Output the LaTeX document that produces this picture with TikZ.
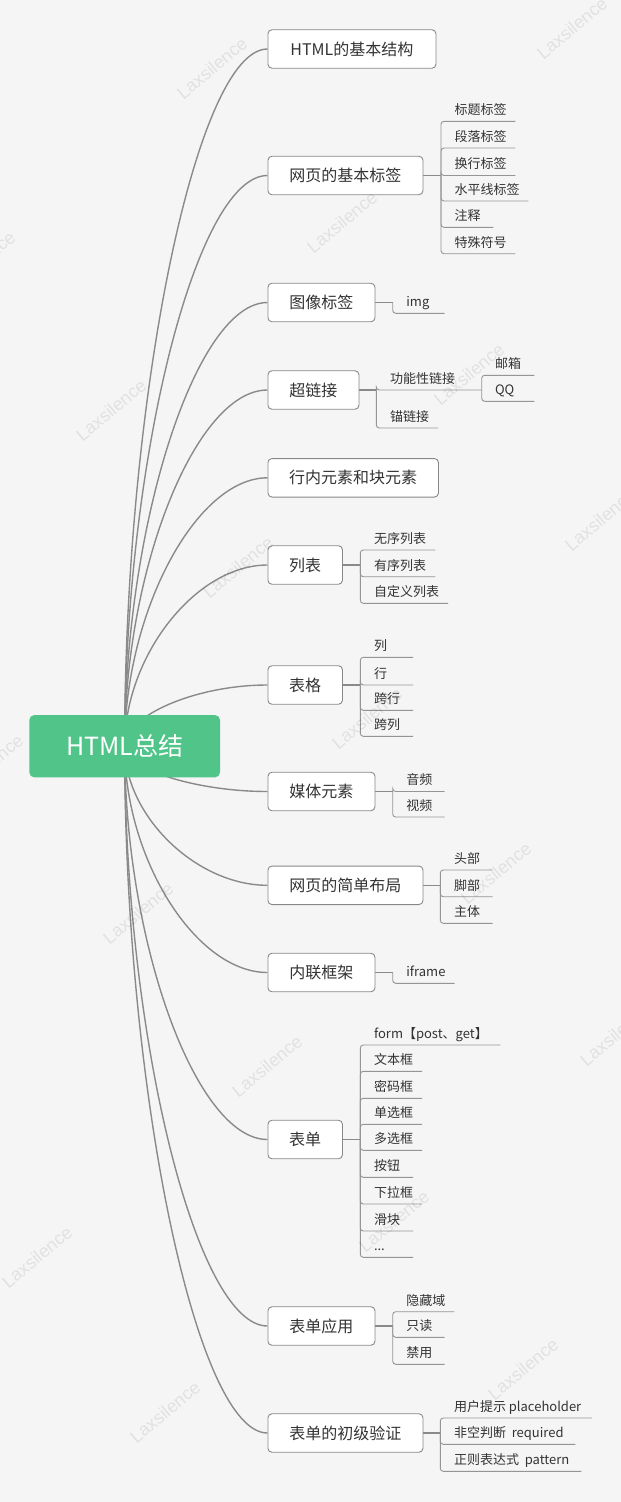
\documentclass[tikz,border=0pt]{standalone}
\usepackage{fontspec}
\setmainfont{Noto Sans CJK SC}
\newfontfamily\wmfont{Liberation Sans}
\usetikzlibrary{calc}
\definecolor{bgc}{HTML}{F5F5F5}
\definecolor{linec}{HTML}{8A8A8A}
\definecolor{subc}{HTML}{959595}
\definecolor{boxline}{HTML}{888888}
\definecolor{txt}{HTML}{333333}
\definecolor{rootc}{HTML}{51C48A}
\pgfdeclarelayer{bg}
\pgfdeclarelayer{edges}
\pgfsetlayers{bg,edges,main}
\newcommand\leafat[5]{\node[leaf] (#1) at (#2,#3) {\makebox[\dimexpr#4pt-#2pt\relax][l]{\hspace*{13.5pt}#5}};}
\newcommand\branchto[1]{\draw[branch] let \p1=(root.center), \p2=(#1.west), \p3=($(\p1)!0.5!(\p2)$) in (\p1) .. controls (\x1,\y3) and (\x3,\y2) .. (\p2);}
\begin{document}
\begin{tikzpicture}[x=1pt,y=-1pt,
  rootbox/.style={fill=rootc, rounded corners=5pt, inner sep=0pt, minimum width=190.7pt, minimum height=62.3pt, text=white, font=\fontsize{25}{28}\selectfont},
  topic/.style={draw=boxline, fill=white, rounded corners=4pt, line width=0.9pt, anchor=west, inner sep=0pt, minimum height=38.5pt, minimum width=#1, text=txt, font=\fontsize{16}{19}\selectfont},
  leaf/.style={anchor=south west, inner sep=0pt, text height=10pt, text depth=6.5pt, text=txt, font=\fontsize{13}{15}\selectfont},
  branch/.style={draw=linec, line width=1.4pt},
  stem/.style={draw=linec, line width=1.6pt},
  sub/.style={draw=subc, line width=0.9pt, rounded corners=3pt},
  wm/.style={text=black, text opacity=0.08, rotate=40, font=\wmfont\fontsize{18}{18}\selectfont}]
\useasboundingbox (0,0) rectangle (621,1502);
\begin{pgfonlayer}{bg}
\fill[bgc] (0,0) rectangle (621,1502);
\end{pgfonlayer}

\node[rootbox] (root) at (124.65,746.2) {HTML总结};

\node[topic=168pt] (t1) at (267.5,49) {HTML的基本结构};
\node[topic=155pt] (t2) at (267.5,175.5) {网页的基本标签};
\node[topic=107pt] (t3) at (267.5,302.5) {图像标签};
\node[topic=91pt] (t4) at (267.5,390) {超链接};
\node[topic=170.5pt] (t5) at (267.5,477.8) {行内元素和块元素};
\node[topic=74.5pt] (t6) at (267.5,565) {列表};
\node[topic=74.5pt] (t7) at (267.5,685) {表格};
\node[topic=107pt] (t8) at (267.5,791.5) {媒体元素};
\node[topic=155pt] (t9) at (267.5,885.3) {网页的简单布局};
\node[topic=107pt] (t10) at (267.5,972.5) {内联框架};
\node[topic=74.5pt] (t11) at (267.5,1139.5) {表单};
\node[topic=107pt] (t12) at (267.5,1326) {表单应用};
\node[topic=155pt] (t13) at (267.5,1433) {表单的初级验证};

\begin{pgfonlayer}{edges}
\foreach \t in {t1,t2,t3,t4,t5,t6,t7,t8,t9,t10,t11,t12,t13} {\branchto{\t}}
\end{pgfonlayer}

% junctions
\coordinate (j2) at (441,175.5);
\coordinate (j3) at (392.7,302.5);
\coordinate (j4) at (376.3,390);
\coordinate (j6) at (360.3,565);
\coordinate (j7) at (360.3,685);
\coordinate (j8) at (392.7,791.5);
\coordinate (j9) at (440.3,885.3);
\coordinate (j10) at (392.7,972.5);
\coordinate (j11) at (360.3,1139.5);
\coordinate (j12) at (392.7,1326);
\coordinate (j13) at (440.3,1433);

% leaves
\leafat{c2a}{441}{121.3}{515}{标题标签}
\leafat{c2b}{441}{148}{515}{段落标签}
\leafat{c2c}{441}{175.5}{515}{换行标签}
\leafat{c2d}{441}{201}{528}{水平线标签}
\leafat{c2e}{441}{227.3}{493}{注释}
\leafat{c2f}{441}{253.7}{515}{特殊符号}

\leafat{c3a}{392.7}{313.3}{444.3}{img}

\leafat{c4a}{376.3}{390}{481.3}{功能性链接}
\leafat{c4b}{376.3}{428}{437.7}{锚链接}
\leafat{c4c}{481.3}{375.3}{534}{邮箱}
\leafat{c4d}{481.3}{401.3}{534}{QQ}

\leafat{c6a}{360.3}{550}{435}{无序列表}
\leafat{c6b}{360.3}{576.7}{435}{有序列表}
\leafat{c6c}{360.3}{603.3}{447.7}{自定义列表}

\leafat{c7a}{360.3}{657.3}{412.7}{列}
\leafat{c7b}{360.3}{685}{412.7}{行}
\leafat{c7c}{360.3}{710.3}{412.7}{跨行}
\leafat{c7d}{360.3}{736.3}{412.7}{跨列}

\leafat{c8a}{392.7}{791.5}{444.3}{音频}
\leafat{c8b}{392.7}{817}{444.3}{视频}

\leafat{c9a}{440.3}{870}{492.3}{头部}
\leafat{c9b}{440.3}{896.7}{492.3}{脚部}
\leafat{c9c}{440.3}{923.3}{492.3}{主体}

\leafat{c10a}{392.7}{983.3}{454.3}{iframe}

\leafat{c11a}{360.3}{1045}{500}{form【post、get】}
\leafat{c11b}{360.3}{1071.3}{421.7}{文本框}
\leafat{c11c}{360.3}{1098.3}{421.7}{密码框}
\leafat{c11d}{360.3}{1124.3}{421.7}{单选框}
\leafat{c11e}{360.3}{1150.3}{421.7}{多选框}
\leafat{c11f}{360.3}{1177.3}{412.7}{按钮}
\leafat{c11g}{360.3}{1204}{421.7}{下拉框}
\leafat{c11h}{360.3}{1231}{412.7}{滑块}
\leafat{c11i}{360.3}{1257.3}{412.7}{...}

\leafat{c12a}{392.7}{1311.7}{454}{隐藏域}
\leafat{c12b}{392.7}{1337.3}{444.3}{只读}
\leafat{c12c}{392.7}{1364.3}{444.3}{禁用}

\leafat{c13a}{440.3}{1418}{591.7}{用户提示 placeholder}
\leafat{c13b}{440.3}{1444.3}{575}{非空判断\ \ required}
\leafat{c13c}{440.3}{1471.3}{581}{正则表达式\ \ pattern}

% stems
\foreach \t/\j in {t2/j2,t3/j3,t4/j4,t6/j6,t7/j7,t8/j8,t9/j9,t10/j10,t11/j11,t12/j12,t13/j13}
  \draw[stem] (\t.east) -- (\j);

% sub connectors
\foreach \c in {c2a,c2b,c2c,c2d,c2e,c2f} \draw[sub] (j2) |- (\c.south east);
\draw[sub] (j3) |- (c3a.south east);
\foreach \c in {c4a,c4b} \draw[sub] (j4) |- (\c.south east);
\foreach \c in {c4c,c4d} \draw[sub] (c4a.south east) |- (\c.south east);
\foreach \c in {c6a,c6b,c6c} \draw[sub] (j6) |- (\c.south east);
\foreach \c in {c7a,c7b,c7c,c7d} \draw[sub] (j7) |- (\c.south east);
\foreach \c in {c8a,c8b} \draw[sub] (j8) |- (\c.south east);
\foreach \c in {c9a,c9b,c9c} \draw[sub] (j9) |- (\c.south east);
\draw[sub] (j10) |- (c10a.south east);
\foreach \c in {c11a,c11b,c11c,c11d,c11e,c11f,c11g,c11h,c11i} \draw[sub] (j11) |- (\c.south east);
\foreach \c in {c12a,c12b,c12c} \draw[sub] (j12) |- (\c.south east);
\foreach \c in {c13a,c13b,c13c} \draw[sub] (j13) |- (\c.south east);

% watermarks
\node[wm] (w1) at (212,68) {Laxsilence};
\node[wm] (w2) at (572,28) {Laxsilence};
\node[wm] (w3) at (342,222) {Laxsilence};
\node[wm] (w4) at (-20,262) {Laxsilence};
\node[wm] (w5) at (111,410) {Laxsilence};
\node[wm] (w6) at (469,374) {Laxsilence};
\node[wm] (w7) at (600,520) {Laxsilence};
\node[wm] (w8) at (238,567) {Laxsilence};
\node[wm] (w9) at (367,718) {Laxsilence};
\node[wm] (w10) at (-12,765) {Laxsilence};
\node[wm] (w11) at (496,873) {Laxsilence};
\node[wm] (w12) at (138,913) {Laxsilence};
\node[wm] (w13) at (615,1035) {Laxsilence};
\node[wm] (w14) at (267,1066) {Laxsilence};
\node[wm] (w15) at (394,1221) {Laxsilence};
\node[wm] (w16) at (37,1257) {Laxsilence};
\node[wm] (w17) at (523,1369) {Laxsilence};
\node[wm] (w18) at (165,1412) {Laxsilence};
\end{tikzpicture}
\end{document}
